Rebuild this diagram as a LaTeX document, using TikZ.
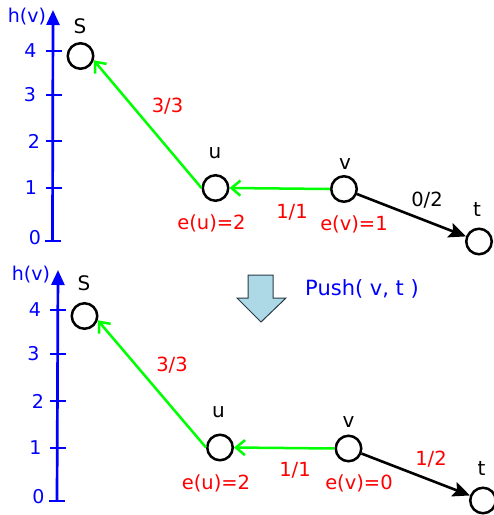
\documentclass[tikz,border=0pt]{standalone}
\usepackage{fontspec}
\setmainfont{DejaVu Sans}
\usetikzlibrary{arrows.meta}
\definecolor{pblue}{RGB}{0,0,255}
\definecolor{pred}{RGB}{255,0,0}
\definecolor{pgreen}{RGB}{0,255,0}
\definecolor{plight}{RGB}{173,216,230}
\definecolor{pdark}{RGB}{40,60,70}
\tikzset{
  x=1pt,y=-1pt,
  vtx/.style={circle,draw=black,line width=2.5pt,minimum size=25.5pt,inner sep=0pt},
  vlab/.style={font=\fontsize{20}{22}\selectfont,text=black,inner sep=0pt},
  rlab/.style={font=\fontsize{19.5}{21}\selectfont,text=pred,inner sep=0pt},
  blab/.style={font=\fontsize{19}{21}\selectfont,text=pblue,inner sep=0pt},
  axisline/.style={draw=pblue,line width=2.7pt,-{Triangle[length=15pt,width=13pt]}},
  tickline/.style={draw=pblue,line width=2.7pt},
  gedge/.style={draw=pgreen,line width=2.5pt,-{Straight Barb[length=9pt,width=15pt,line width=2.5pt]}},
  kedge/.style={draw=black,line width=2.6pt,-{Stealth[length=17pt,width=15pt,inset=3pt]}},
}
\begin{document}
\begin{tikzpicture}
\clip (0,0) rectangle (494,515);
% ---------- top diagram ----------
\coordinate (a0) at (52.5,241);
\coordinate (atop) at (53,10);
\draw[axisline] (a0) -- (atop);
\foreach \yy/\lx/\num in {51/30.5/4,95/30/3,141/34/2,188/31/1} {
  \draw[tickline] (46,\yy) -- (62,\yy);
  \node[blab] at (\lx,\yy) {\num};
}
\draw[tickline] (45,241) -- (61,241);
\node[blab] at (35,238) {0};
\node[blab] at (27,17) {h(v)};

\node[vtx] (S1) at (80.5,56) {};
\node[vtx] (u1) at (215.5,188) {};
\node[vtx] (v1) at (344,189) {};
\node[vtx] (t1) at (479,241.5) {};
\node[vlab] at (80,26) {S};
\node[vlab] at (215,153) {u};
\node[vlab] at (345,164) {v};
\node[vlab] at (477,209) {t};

\draw[gedge] (u1.west) -- (S1.-18);
\draw[gedge] (v1.west) -- (u1.east);
\draw[kedge] (v1) -- (t1);

\node[rlab] at (167.5,106) {3/3};
\node[rlab] at (292,212) {1/1};
\node[rlab] at (211.5,223) {e(u)=2};
\node[rlab] at (354,224) {e(v)=1};
\node[vlab,font=\fontsize{19.5}{21}\selectfont] at (427,200) {0/2};

% ---------- block arrow ----------
\draw[fill=plight,draw=pdark,line width=1pt,line join=miter]
  (248,275) -- (273,275) -- (273,298) -- (286,298) -- (261,322) -- (237,298) -- (248,298) -- cycle;
\node[blab,font=\fontsize{21}{23}\selectfont] at (362,289) {Push( v, t )};

% ---------- bottom diagram ----------
\coordinate (b0) at (57,501);
\coordinate (btop) at (58,270);
\draw[axisline] (b0) -- (btop);
\foreach \yy/\lx/\num in {310/35/4,354/33.5/3,401/38/2,448/35.5/1} {
  \draw[tickline] (50,\yy) -- (66,\yy);
  \node[blab] at (\lx,\yy) {\num};
}
\draw[tickline] (49,501) -- (65,501);
\node[blab] at (38.5,497) {0};
\node[blab] at (31,275) {h(v)};

\node[vtx] (S2) at (84.5,316) {};
\node[vtx] (u2) at (220,447.5) {};
\node[vtx] (v2) at (348.5,448.5) {};
\node[vtx] (t2) at (483,500.5) {};
\node[vlab] at (84,283) {S};
\node[vlab] at (218.5,412) {u};
\node[vlab] at (348.5,422) {v};
\node[vlab] at (481.5,468) {t};

\draw[gedge] (u2.west) -- (S2.-18);
\draw[gedge] (v2.west) -- (u2.east);
\draw[kedge] (v2) -- (t2);

\node[rlab] at (172,365) {3/3};
\node[rlab] at (295,470.5) {1/1};
\node[rlab] at (216,483) {e(u)=2};
\node[rlab] at (359,483) {e(v)=0};
\node[rlab] at (431,459.5) {1/2};
\end{tikzpicture}
\end{document}
